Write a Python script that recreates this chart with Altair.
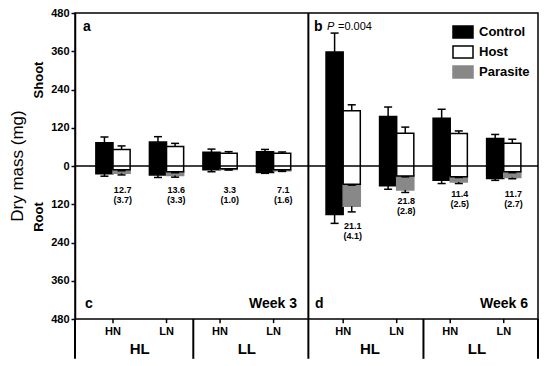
import altair as alt
import pandas as pd

# ---------------- data (mg) ----------------
weeks = ["Week 3", "Week 6"]
light = ["HL", "HL", "LL", "LL"]
nitrogen = ["HN", "LN", "HN", "LN"]

# order: week 3 (HL-HN, HL-LN, LL-HN, LL-LN), then week 6 (same order)
control_shoot = [73, 75, 43, 45, 358, 155, 150, 86]
control_shoot_err = [18, 17, 10, 7, 59, 30, 28, 13]
control_root = [24, 28, 12, 20, 152, 62, 45, 39]
control_root_err = [8, 8, 6, 3, 28, 11, 10, 6]
host_shoot = [52, 61, 40, 40, 173, 103, 102, 71]
host_shoot_err = [11, 10, 5, 4, 19, 19, 8, 13]
host_root = [12, 18, 9, 12, 57, 31, 34, 18]
host_root_err = [3, 3, 3, 5, 3, 3, 2, 3]
parasite = [11, 12, 2, 3, 69, 44, 16, 18]
parasite_err = [5, 5, 1, 1, 18, 8, 5, 4]
parasite_pct = ["12.7", "13.6", "3.3", "7.1", "21.1", "21.8", "11.4", "11.7"]
parasite_pct_se = ["(3.7)", "(3.3)", "(1.0)", "(1.6)", "(4.1)", "(2.8)", "(2.5)", "(2.7)"]
label_depth = [75, 75, 75, 75, 188, 110, 88, 88]

series_names = ["Control", "Host", "Parasite"]
series_fill = ["#000000", "#ffffff", "#888888"]
series_stroke = ["#000000", "#000000", "#888888"]

# ---------------- layout helpers ----------------
WEEK_SHIFT = 4.3
BW = 0.32      # bar width in x units
CAP = 0.075    # half cap width
X_MIN, X_MAX = 0.29, 8.94
Y_MIN, Y_MAX = -480, 480
BOTTOM = -605

pos = [1 + (i % 4) + WEEK_SHIFT * (i // 4) for i in range(8)]

bar_rows, err_rows, lab_rows = [], [], []
for i, p in enumerate(pos):
    cr, cs = control_root[i], control_shoot[i]
    hr, hs = host_root[i], host_shoot[i]
    pr = parasite[i]
    bar_rows += [
        dict(series="Control", x0=p - BW, x1=p, ylo=-cr, yhi=cs, order=0),
        dict(series="Parasite", x0=p, x1=p + BW, ylo=-(hr + pr), yhi=-hr, order=1),
        dict(series="Host", x0=p, x1=p + BW, ylo=-hr, yhi=hs, order=2),
    ]
    for xc, y0, y1 in [
        (p - BW / 2, cs, cs + control_shoot_err[i]),
        (p - BW / 2, -cr, -(cr + control_root_err[i])),
        (p + BW / 2, hs, hs + host_shoot_err[i]),
        (p + BW / 2, -hr, -(hr + host_root_err[i])),
        (p + BW / 2, -(hr + pr), -(hr + pr + parasite_err[i])),
    ]:
        err_rows.append(dict(xc=xc, y0=y0, y1=y1, c0=xc - CAP, c1=xc + CAP))
    lab_rows.append(dict(x=p + BW / 2 + 0.02, y=-label_depth[i],
                         v=parasite_pct[i], se=parasite_pct_se[i]))

bars_df = pd.DataFrame(bar_rows)
err_df = pd.DataFrame(err_rows)
lab_df = pd.DataFrame(lab_rows)
light_df = pd.DataFrame([
    dict(x=(pos[j] + pos[j + 1]) / 2, t=light[j % 4], ty=-575) for j in (0, 2, 4, 6)
])
sep_df = pd.DataFrame(dict(
    x=[X_MIN, (pos[1] + pos[2]) / 2, (pos[3] + pos[4]) / 2, (pos[5] + pos[6]) / 2, X_MAX],
    ytop=[Y_MIN, Y_MIN, Y_MAX, Y_MIN, Y_MIN],
    ybot=[BOTTOM] * 5,
))
tick_df = pd.DataFrame(dict(
    x=pos, t0=[Y_MIN] * 8, t1=[Y_MIN - 13] * 8, ty=[-520] * 8,
    nit=[nitrogen[i % 4] for i in range(8)],
))

xs = alt.Scale(domain=[X_MIN, X_MAX], nice=False, zero=False)
ys = alt.Scale(domain=[Y_MIN, Y_MAX], nice=False, zero=False)

yaxis = alt.Axis(
    values=[-480, -360, -240, -120, 0, 120, 240, 360, 480],
    labelExpr="format(abs(datum.value), 'd')",
    title=None, grid=False, domainColor="black", domainWidth=1.5,
    tickColor="black", tickWidth=1.5, tickSize=4, labelFontSize=11,
    labelFontWeight="bold", labelColor="black", labelPadding=2,
    labelOverlap=False,
)


def X(f):
    return alt.X(f, scale=xs, axis=None)


def Y(f):
    return alt.Y(f, scale=ys, axis=yaxis)


legend = alt.Legend(
    title=None, orient="none", legendX=377, legendY=8,
    symbolType="M-1,-0.6H1V0.6H-1Z", symbolSize=400, symbolStrokeWidth=1.5,
    labelFontSize=13, labelFontWeight="bold", labelColor="black",
    labelOffset=5, rowPadding=-3,
)

bars = alt.Chart(bars_df).mark_rect(strokeWidth=1.5).encode(
    x=X("x0:Q"), x2="x1:Q", y=Y("ylo:Q"), y2="yhi:Q",
    fill=alt.Fill("series:N", scale=alt.Scale(domain=series_names, range=series_fill), legend=legend),
    stroke=alt.Stroke("series:N", scale=alt.Scale(domain=series_names, range=series_stroke), legend=legend),
    order="order:Q",
)

err_v = alt.Chart(err_df).mark_rule(color="black", strokeWidth=1.5).encode(
    x=X("xc:Q"), y=Y("y0:Q"), y2="y1:Q",
)
err_c = alt.Chart(err_df).mark_rule(color="black", strokeWidth=1.5).encode(
    x=X("c0:Q"), x2="c1:Q", y=Y("y1:Q"),
)

zero = alt.Chart(pd.DataFrame({"y": [0]})).mark_rule(color="black", strokeWidth=1.5).encode(
    y=Y("y:Q")
)

seps = alt.Chart(sep_df).mark_rule(color="black", strokeWidth=2).encode(
    x=X("x:Q"), y=Y("ytop:Q"), y2="ybot:Q",
)

ticks = alt.Chart(tick_df).mark_rule(color="black", strokeWidth=1.5).encode(
    x=X("x:Q"), y=Y("t0:Q"), y2="t1:Q",
)
nit_text = alt.Chart(tick_df).mark_text(
    fontSize=11, fontWeight="bold", color="black", baseline="middle"
).encode(x=X("x:Q"), y=Y("ty:Q"), text="nit:N")
light_text = alt.Chart(light_df).mark_text(
    fontSize=15, fontWeight="bold", color="black", baseline="middle"
).encode(x=X("x:Q"), y=Y("ty:Q"), text="t:N")

pct1 = alt.Chart(lab_df).mark_text(fontSize=9, fontWeight="bold", color="black", baseline="middle").encode(
    x=X("x:Q"), y=Y("y:Q"), text="v:N"
)
pct2 = alt.Chart(lab_df).mark_text(fontSize=9, fontWeight="bold", color="black", baseline="middle", dy=10).encode(
    x=X("x:Q"), y=Y("y:Q"), text="se:N"
)


def note(txt, x, y, size=14, weight="bold", align="left", angle=0, style="normal"):
    return alt.Chart(pd.DataFrame({"t": [txt]})).mark_text(
        fontSize=size, fontWeight=weight, align=align, baseline="middle",
        angle=angle, color="black", fontStyle=style,
    ).encode(x=alt.value(x), y=alt.value(y), text="t:N")


notes = [
    note("Dry mass (mg)", -57, 153, size=17, weight="normal", align="center", angle=270),
    note("Shoot", -36, 67, size=13, align="center", angle=270),
    note("Root", -36, 204, size=13, align="center", angle=270),
    note("a", 8, 14),
    note("b", 239, 14),
    note("P", 252, 14, size=11, weight="normal", style="italic"),
    note("=0.004", 263, 14, size=11, weight="normal"),
    note("c", 10, 291),
    note("Week 3", 222, 291, align="right"),
    note("d", 240, 291),
    note("Week 6", 453, 291, align="right"),
]

chart = alt.layer(
    bars, err_v, err_c, zero, seps, ticks, nit_text, light_text, pct1, pct2, *notes
).properties(
    width=463, height=306,
    autosize=alt.AutoSizeParams(type="none"),
    padding={"left": 67, "top": 5, "right": 4, "bottom": 45},
).configure(
    font="Liberation Sans",
).configure_view(
    stroke="black", strokeWidth=1.5,
)

chart.save("out.html", embed_options={"renderer": "svg", "actions": False})
